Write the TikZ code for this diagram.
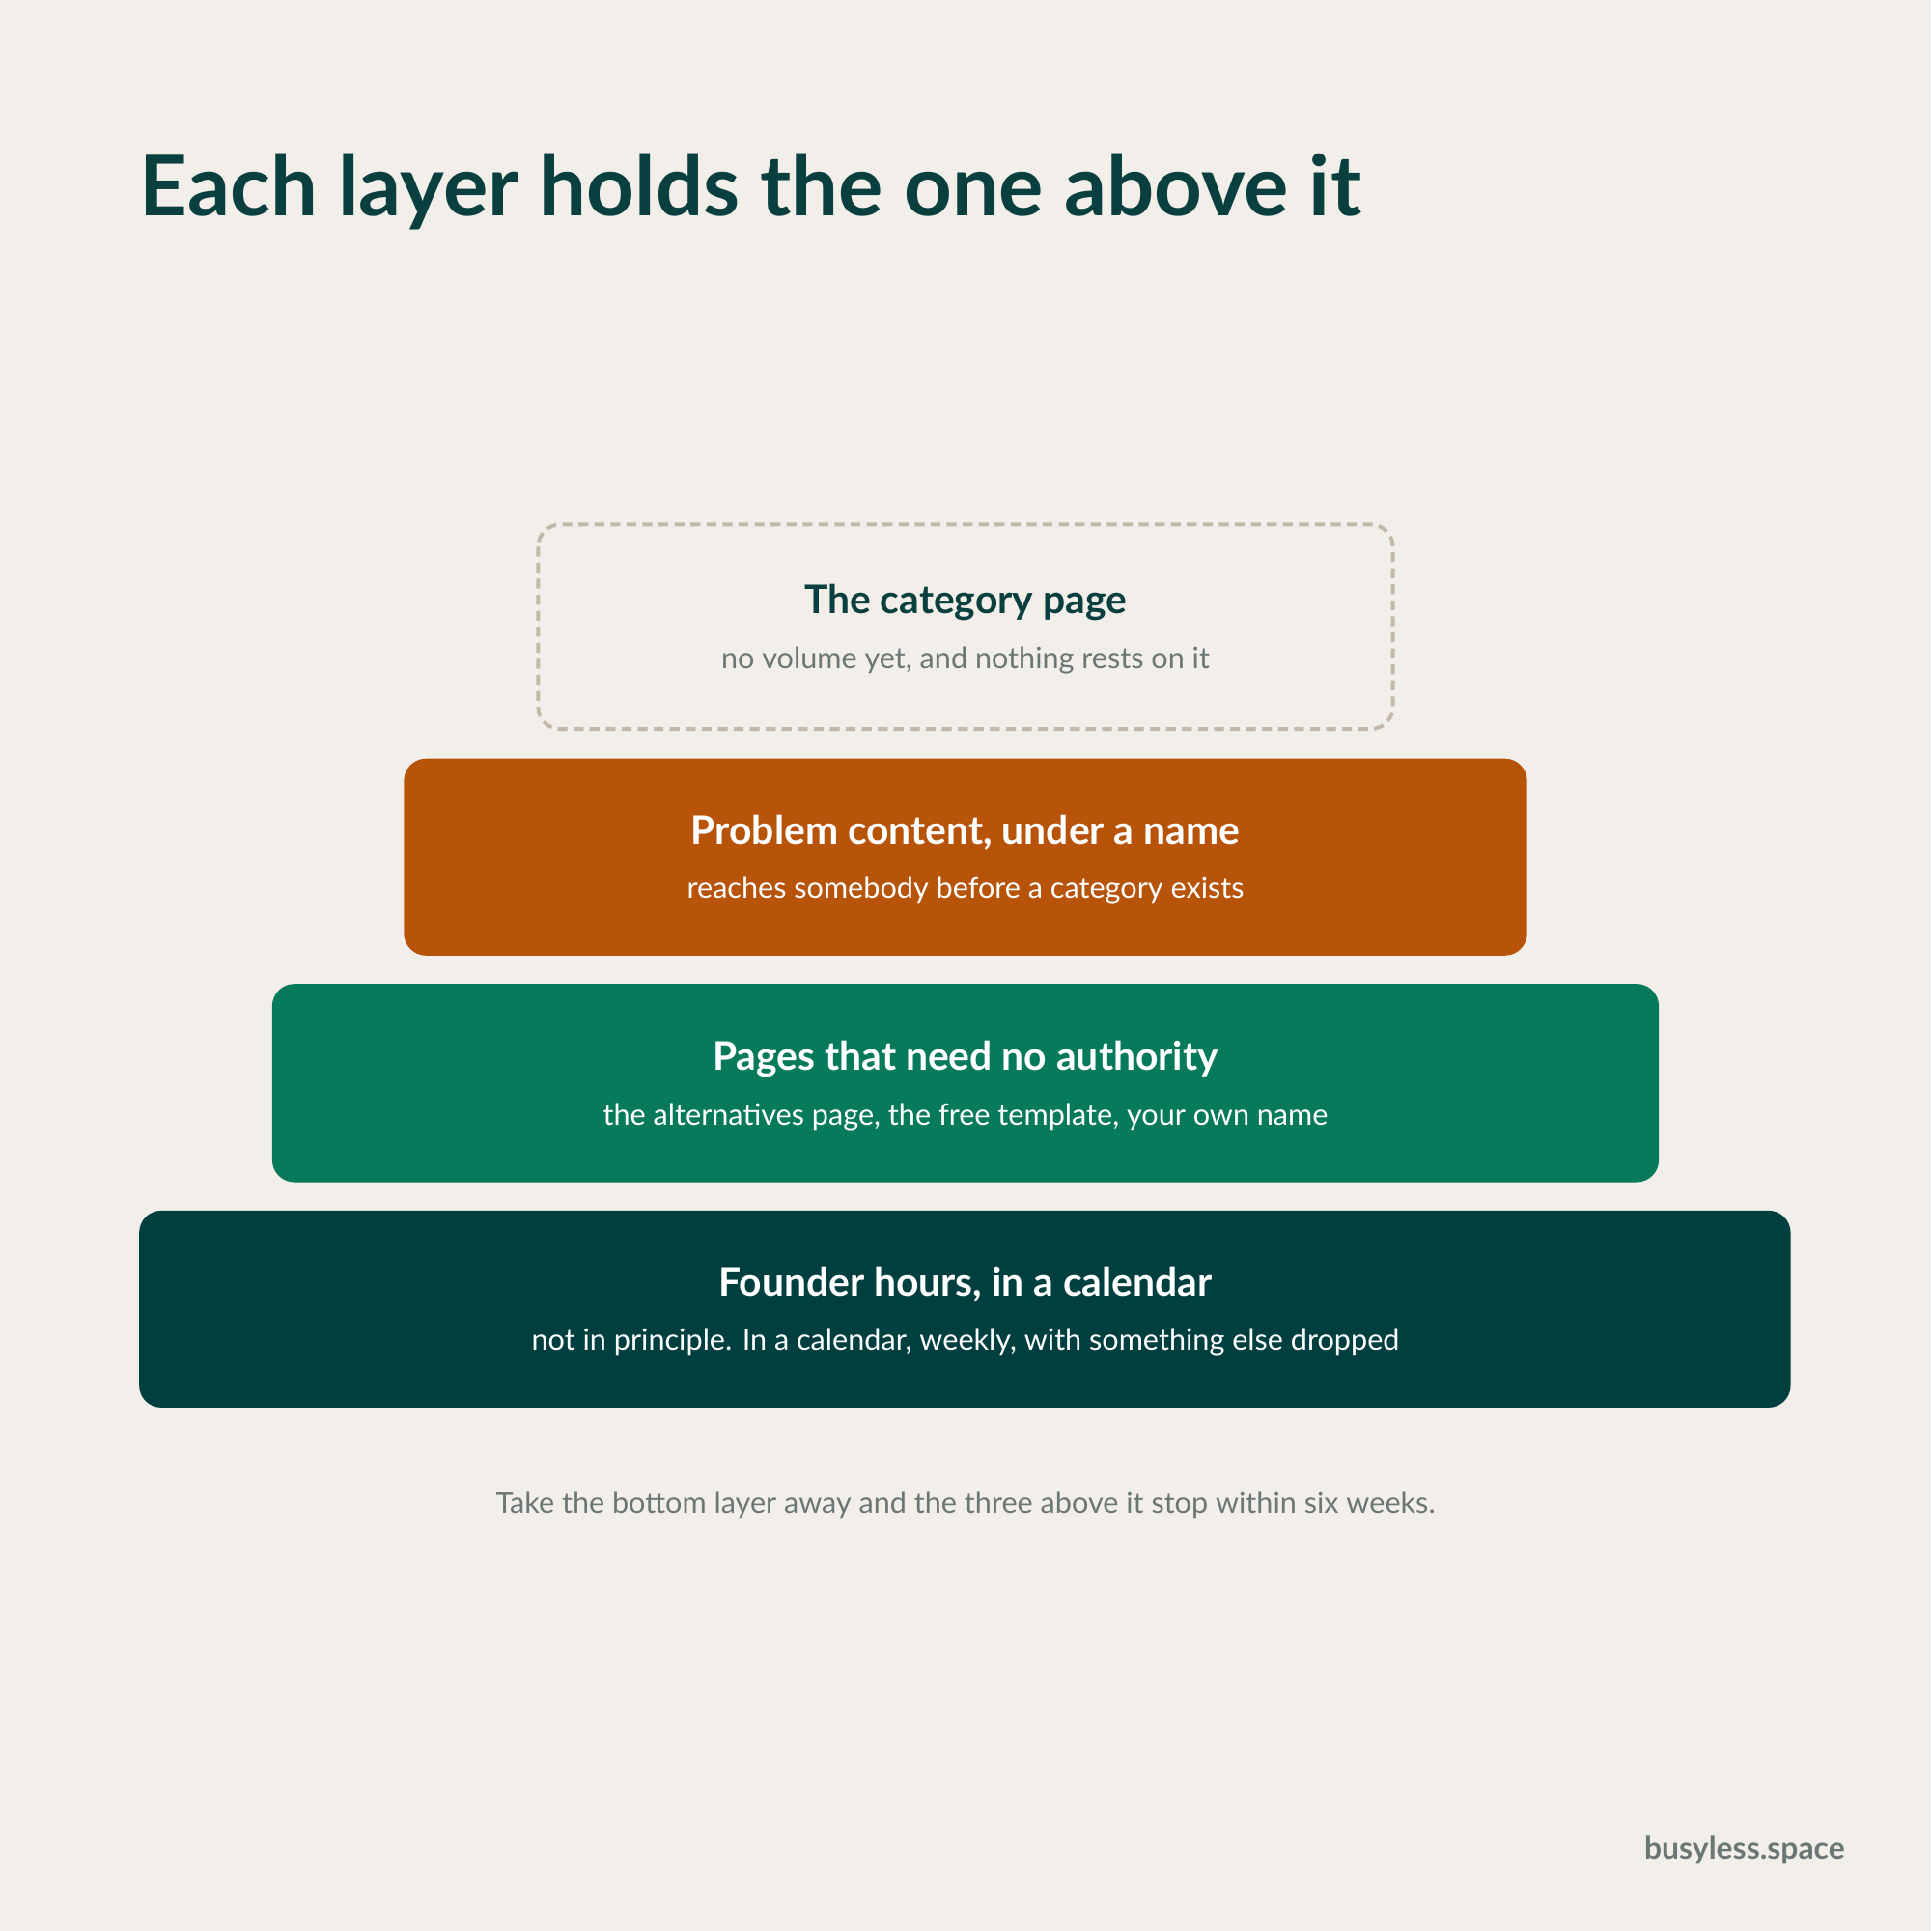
\documentclass[tikz,border=0pt]{standalone}
\usepackage{fontspec}
\setmainfont{Lato}
\definecolor{bg}{HTML}{F2EFEA}
\definecolor{ink}{HTML}{0A3F3F}
\definecolor{orng}{HTML}{B7540A}
\definecolor{grn}{HTML}{067A5A}
\definecolor{dark}{HTML}{003F3F}
\definecolor{gry}{HTML}{6B7775}
\definecolor{dashc}{HTML}{C2B8A8}
\begin{document}
\begin{tikzpicture}[x=0.5pt,y=-0.5pt,
  layer/.style={rounded corners=9pt},
  ttl/.style={font=\fontsize{16}{19}\selectfont\bfseries},
  sub/.style={font=\fontsize{12}{14}\selectfont},
]
\fill[bg] (0,0) rectangle (1568,1568);
\useasboundingbox (0,0) rectangle (1568,1568);
\node[anchor=base west,text=ink,inner sep=0,font=\fontsize{34}{40}\selectfont\bfseries] (title) at (113,175) {Each layer holds the one above it};
\draw[layer,draw=dashc,line width=1.5pt,dash pattern=on 4pt off 2.5pt] (437,426) rectangle (1131,592);
\node[ttl,text=ink] (t1) at (784,489) {The category page};
\node[sub,text=gry] (s1) at (784,536) {no volume yet, and nothing rests on it};
\fill[layer,orng] (328,616) rectangle (1240,776);
\node[ttl,text=white] (t2) at (784,676) {Problem content, under a name};
\node[sub,text=white] (s2) at (784,723) {reaches somebody before a category exists};
\fill[layer,grn] (221,799) rectangle (1347,960);
\node[ttl,text=white] (t3) at (784,860) {Pages that need no authority};
\node[sub,text=white] (s3) at (784,907) {the alternatives page, the free template, your own name};
\fill[layer,dark] (113,983) rectangle (1454,1143);
\node[ttl,text=white] (t4) at (784,1043) {Founder hours, in a calendar};
\node[sub,text=white] (s4) at (784,1090) {not in principle. In a calendar, weekly, with something else dropped};
\node[sub,text=gry] (foot) at (784,1222) {Take the bottom layer away and the three above it stop within six weeks.};
\node[anchor=east,text=gry,font=\fontsize{12.5}{14}\selectfont\bfseries] (brand) at (1505,1502) {busyless.space};
\end{tikzpicture}
\end{document}
